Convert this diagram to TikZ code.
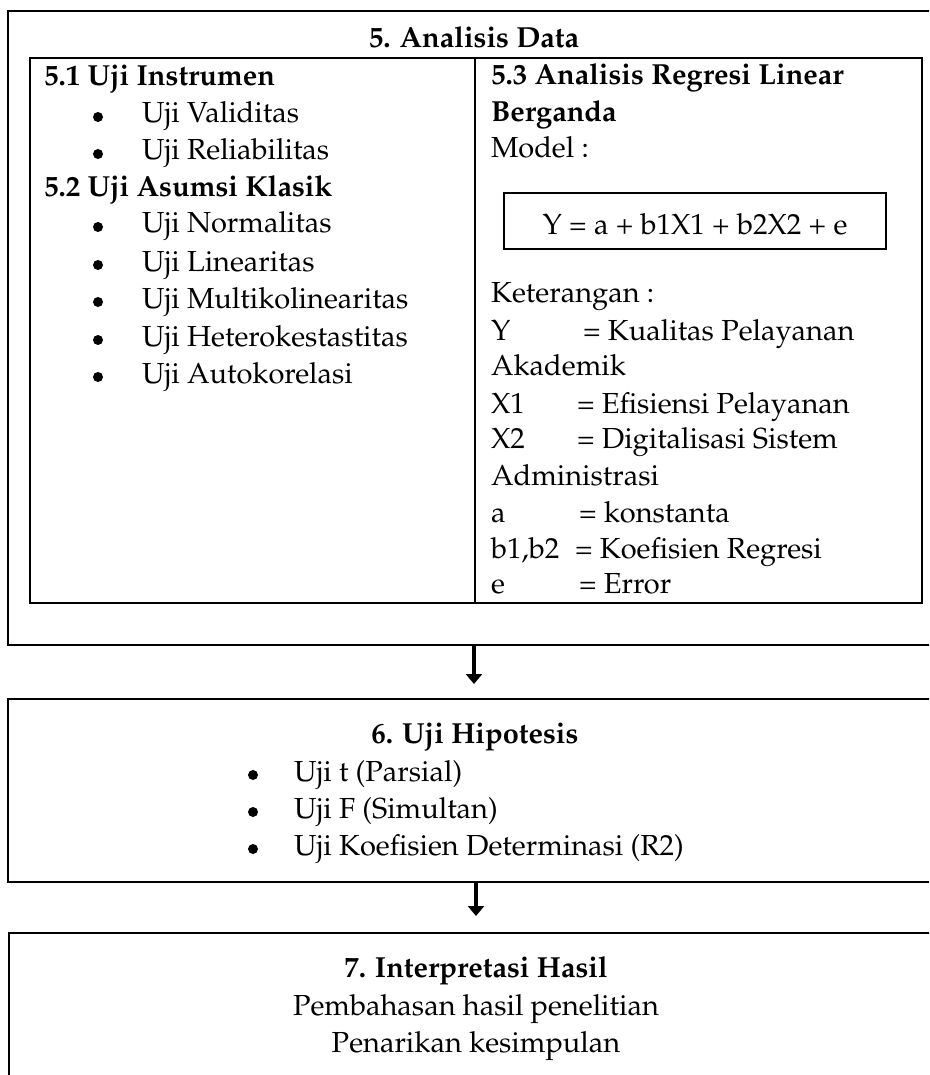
\documentclass[tikz,border=0pt]{standalone}
\usepackage[T1]{fontenc}
\usepackage{mathpazo}
\usetikzlibrary{arrows.meta}
\begin{document}
\begin{tikzpicture}[x=1pt,y=-1pt,
  txt/.style={inner sep=0pt, outer sep=0pt, anchor=base west, font=\fontsize{29}{36}\selectfont},
  ctxt/.style={inner sep=0pt, outer sep=0pt, anchor=base, font=\fontsize{29}{36}\selectfont},
  bold/.style={font=\fontsize{29}{36}\selectfont\bfseries},
  bul/.style={circle, fill, inner sep=0pt, outer sep=0pt, minimum size=10pt},
  bigbox/.style={draw, line width=2.8pt, inner sep=0pt, outer sep=0pt, anchor=north west},
  tablebox/.style={draw, line width=2pt, inner sep=0pt, outer sep=0pt, anchor=north west},
  arr/.style={line width=3.6pt, -{Triangle[width=16pt,length=10pt]}}
]
\useasboundingbox (0,0) rectangle (929,1075);
\clip (0,0) rectangle (929,1075);

% ---------- Box 5 ----------
\node[bigbox, minimum width=942pt, minimum height=634pt] (b5) at (8,11) {};
\node[ctxt, bold] (t5) at (474,48) {5. Analisis Data};
\node[tablebox, minimum width=892pt, minimum height=545pt] (tab) at (30,58) {};
\coordinate (divtop) at (475,58);
\coordinate (divbot) at (475,603);
\draw[line width=2pt] (divtop) -- (divbot);

% left column
\node[txt, bold] (h51) at (44,86) {5.1 Uji Instrumen};
\node[bul] (p1) at (98,117) {};
\node[txt] (v1) at (142,123) {Uji Validitas};
\node[bul] (p2) at (98,154) {};
\node[txt] (v2) at (142,160) {Uji Reliabilitas};
\node[txt, bold] (h52) at (44,197) {5.2 Uji Asumsi Klasik};
\node[bul] (p3) at (98,227) {};
\node[txt] (v3) at (142,233) {Uji Normalitas};
\node[bul] (p4) at (98,265) {};
\node[txt] (v4) at (142,271) {Uji Linearitas};
\node[bul] (p5) at (98,302) {};
\node[txt] (v5) at (142,308) {Uji Multikolinearitas};
\node[bul] (p6) at (98,340) {};
\node[txt] (v6) at (142,346) {Uji Heterokestastitas};
\node[bul] (p7) at (98,377) {};
\node[txt] (v7) at (142,383) {Uji Autokorelasi};

% right column
\node[txt, bold] (h53) at (491,85) {5.3 Analisis Regresi Linear};
\node[txt, bold] (h53b) at (491,122) {Berganda};
\node[txt] (model) at (491,158) {Model :};
\node[draw, line width=2pt, inner sep=0pt, minimum width=382pt, minimum height=56pt] (fbox) at (695,221) {};
\node[ctxt] (formula) at (695,235) {Y = a + b1X1 + b2X2 + e};
\node[txt] (ket) at (491,302) {Keterangan :};
\node[txt] (ky) at (491,340) {Y};
\node[txt] (kyv) at (583,340) {= Kualitas Pelayanan};
\node[txt] (kak) at (491,375) {Akademik};
\node[txt] (kx1) at (491,413) {X1};
\node[txt] (kx1v) at (577,413) {= Efisiensi Pelayanan};
\node[txt] (kx2) at (491,448) {X2};
\node[txt] (kx2v) at (577,448) {= Digitalisasi Sistem};
\node[txt] (kadm) at (491,485) {Administrasi};
\node[txt] (ka) at (491,522) {a};
\node[txt] (kav) at (579,522) {= konstanta};
\node[txt] (kb) at (491,558) {b1,b2};
\node[txt] (kbv) at (575,558) {= Koefisien Regresi};
\node[txt] (ke) at (491,593) {e};
\node[txt] (kev) at (579,593) {= Error};

% ---------- Box 6 ----------
\node[bigbox, minimum width=942pt, minimum height=183pt] (b6) at (8,699) {};
\node[ctxt, bold] (t6) at (475,743) {6. Uji Hipotesis};
\node[bul] (q1) at (253,775) {};
\node[txt] (u1) at (294,781) {Uji t (Parsial)};
\node[bul] (q2) at (253,812) {};
\node[txt] (u2) at (294,818) {Uji F (Simultan)};
\node[bul] (q3) at (253,849) {};
\node[txt] (u3) at (294,855) {Uji Koefisien Determinasi (R2)};

% ---------- Box 7 ----------
\node[bigbox, minimum width=942pt, minimum height=170pt] (b7) at (9,933) {};
\node[ctxt, bold] (t7) at (476,977) {7. Interpretasi Hasil};
\node[ctxt] (r1) at (476,1015) {Pembahasan hasil penelitian};
\node[ctxt] (r2) at (476,1052) {Penarikan kesimpulan};

% ---------- Arrows ----------
\coordinate (ax1) at (474,0);
\coordinate (ax2) at (476,0);
\draw[arr, shorten >=15pt] (b5.south -| ax1) -- (b6.north -| ax1);
\draw[arr, shorten >=17pt] (b6.south -| ax2) -- (b7.north -| ax2);
\end{tikzpicture}
\end{document}
